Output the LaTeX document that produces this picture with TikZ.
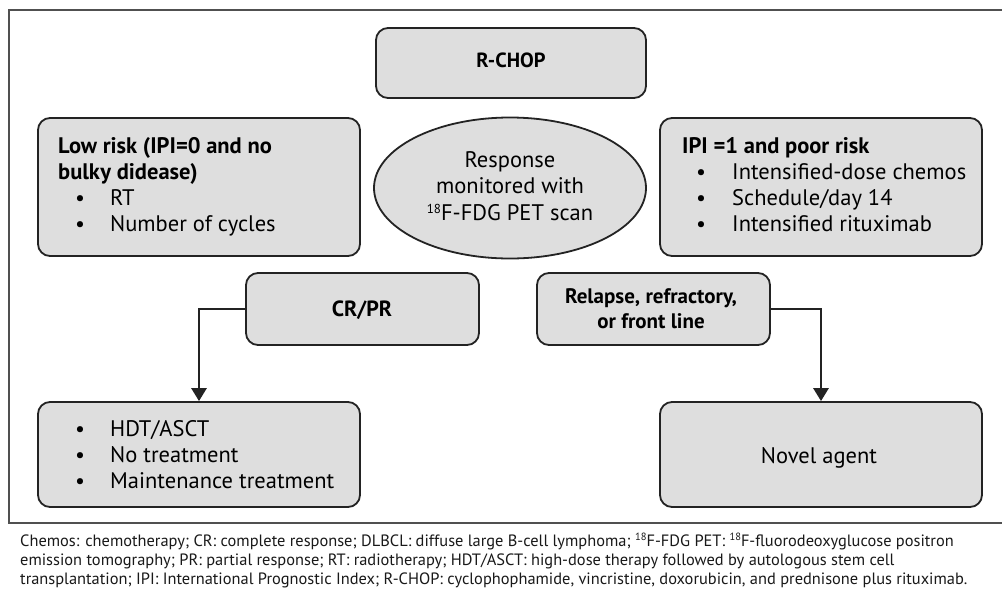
\documentclass[tikz,border=0pt]{standalone}
\usepackage{fontspec}
\setmainfont{PT Sans}
\usetikzlibrary{arrows.meta,shapes.geometric}
\definecolor{boxgray}{RGB}{222,222,222}
\definecolor{edgec}{RGB}{35,35,35}
\definecolor{framec}{RGB}{80,80,80}
\newcommand{\supeighteen}{{\fontsize{13}{13}\selectfont\raisebox{7pt}{18}}}
\newcommand{\capsup}{{\fontsize{10.5}{10.5}\selectfont\raisebox{5.5pt}{18}}}
\begin{document}
\begin{tikzpicture}[x=1pt,y=-1pt,
  box/.style={draw=edgec, line width=1.8pt, fill=boxgray, rounded corners=12pt, inner sep=0pt},
  oval/.style={draw=edgec, line width=1.8pt, fill=boxgray, ellipse, inner sep=0pt},
  txt/.style={anchor=base west, inner sep=0pt, font=\fontsize{22.5}{26}\selectfont},
  btxt/.style={anchor=base west, inner sep=0pt, font=\fontsize{22.5}{26}\selectfont\bfseries},
  ctxt/.style={anchor=base, inner sep=0pt, font=\fontsize{22.5}{26}\selectfont},
  cbtxt/.style={anchor=base, inner sep=0pt, font=\fontsize{22}{26}\selectfont\bfseries},
  bul/.style={anchor=base, inner sep=0pt, font=\fontsize{22}{26}\selectfont},
  captxt/.style={anchor=base west, inner sep=0pt, font=\fontsize{16.4}{19}\selectfont, text=black!90},
  arr/.style={draw=edgec, line width=2.8pt, -{Triangle[length=13pt,width=15pt]}}]
\useasboundingbox (0,0) rectangle (1002,590);
\fill[white] (0,0) rectangle (1002,590);
% frame
\draw[framec, line width=1.4pt] (1002,10) -| (9,523) -- (1002,523);

% boxes
\node[box, minimum width=270pt, minimum height=70pt] (rchop) at (511,63) {};
\node[box, minimum width=322pt, minimum height=138pt] (low) at (199,187) {};
\node[oval, minimum width=272pt, minimum height=141pt] (resp) at (510,188) {};
\node[box, minimum width=322pt, minimum height=138pt] (ipi) at (821,187) {};
\node[box, minimum width=233pt, minimum height=72pt] (crpr) at (362.5,309) {};
\node[box, minimum width=233pt, minimum height=72pt] (relapse) at (653.5,309) {};
\node[box, minimum width=322pt, minimum height=105pt] (hdt) at (199,454.5) {};
\node[box, minimum width=322pt, minimum height=105pt] (novel) at (821,454.5) {};

% texts
\node[cbtxt, font=\fontsize{20.5}{24}\selectfont\bfseries] (t-rchop) at (511,67) {R-CHOP};

\node[btxt] (t-low1) at (58,153) {Low risk (IPI=0 and no};
\node[btxt] (t-low2) at (58,179) {bulky didease)};
\node[bul] (b-low1) at (80,205) {•};
\node[txt] (t-low3) at (110,205) {RT};
\node[bul] (b-low2) at (80,231) {•};
\node[txt] (t-low4) at (110,231) {Number of cycles};

\node[ctxt] (t-resp1) at (510,167) {Response};
\node[ctxt] (t-resp2) at (510,193.5) {monitored with};
\node[ctxt] (t-resp3) at (510,220) {\supeighteen F-FDG PET scan};

\node[btxt] (t-ipi1) at (682,153) {IPI =1 and poor risk};
\node[bul] (b-ipi1) at (701,179) {•};
\node[txt] (t-ipi2) at (732,179) {Intensified-dose chemos};
\node[bul] (b-ipi2) at (701,205) {•};
\node[txt] (t-ipi3) at (732,205) {Schedule/day 14};
\node[bul] (b-ipi3) at (701,231) {•};
\node[txt] (t-ipi4) at (732,231) {Intensified rituximab};

\node[cbtxt] (t-crpr) at (362,316) {CR/PR};
\node[cbtxt, font=\fontsize{21}{26}\selectfont\bfseries] (t-rel1) at (651,303) {Relapse, refractory,};
\node[cbtxt, font=\fontsize{21}{26}\selectfont\bfseries] (t-rel2) at (651,328) {or front line};

\node[bul] (b-hdt1) at (80,436) {•};
\node[txt] (t-hdt1) at (110,436) {HDT/ASCT};
\node[bul] (b-hdt2) at (80,462) {•};
\node[txt] (t-hdt2) at (110,462) {No treatment};
\node[bul] (b-hdt3) at (80,488) {•};
\node[txt] (t-hdt3) at (110,488) {Maintenance treatment};

\node[ctxt] (t-novel) at (819,463) {Novel agent};

% connectors
\draw[arr] (crpr.west) -| (hdt.north);
\draw[arr] (relapse.east) -| (novel.north);

% caption
\node[captxt] (cap1) at (20,546) {Chemos: chemotherapy; CR: complete response; DLBCL: diffuse large B-cell lymphoma; \capsup F-FDG PET: \capsup F-fluorodeoxyglucose positron};
\node[captxt] (cap2) at (20,565) {emission tomography; PR: partial response; RT: radiotherapy; HDT/ASCT: high-dose therapy followed by autologous stem cell};
\node[captxt] (cap3) at (20,584) {transplantation; IPI: International Prognostic Index; R-CHOP: cyclophophamide, vincristine, doxorubicin, and prednisone plus rituximab.};
\end{tikzpicture}
\end{document}
